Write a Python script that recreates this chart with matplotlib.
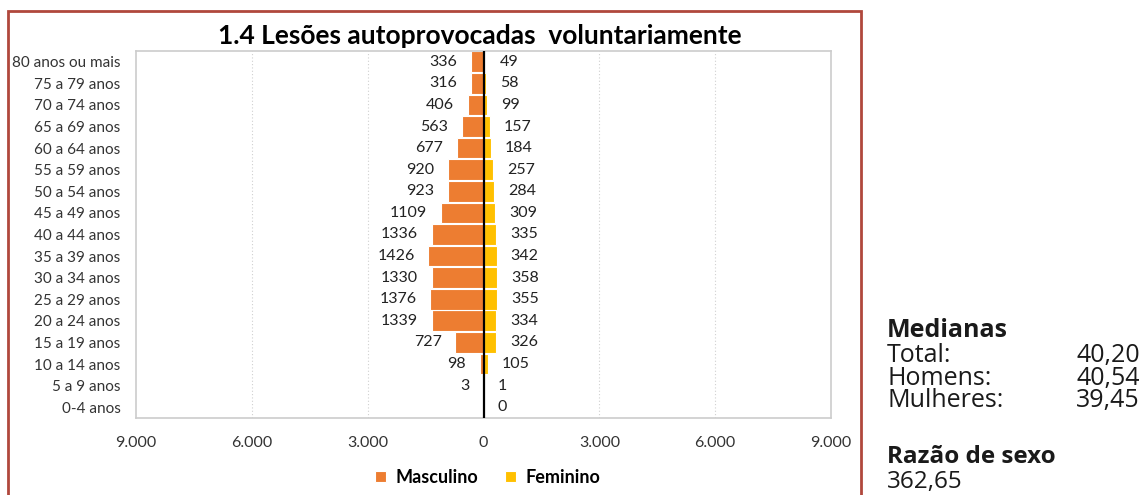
import matplotlib.pyplot as plt
from matplotlib.patches import Rectangle
from matplotlib.ticker import FuncFormatter

# faixas etárias (de baixo para cima)
faixas = ["0-4 anos", "5 a 9 anos", "10 a 14 anos", "15 a 19 anos", "20 a 24 anos",
          "25 a 29 anos", "30 a 34 anos", "35 a 39 anos", "40 a 44 anos", "45 a 49 anos",
          "50 a 54 anos", "55 a 59 anos", "60 a 64 anos", "65 a 69 anos", "70 a 74 anos",
          "75 a 79 anos", "80 anos ou mais"]
masculino = [0, 3, 98, 727, 1339, 1376, 1330, 1426, 1336, 1109, 923, 920, 677, 563, 406, 316, 336]
feminino = [0, 1, 105, 326, 334, 355, 358, 342, 335, 309, 284, 257, 184, 157, 99, 58, 49]
ticks = [-9000, -6000, -3000, 0, 3000, 6000, 9000]

med_nomes = ["Total:", "Homens:", "Mulheres:"]
med_valores = ["40,20", "40,54", "39,45"]
razao = "362,65"

cor_m = "#ED7D31"
cor_f = "#FFC000"
fonte = "Lato"

fig = plt.figure(figsize=(11.45, 4.95), dpi=100)
ax = fig.add_axes([0.1188, 0.1556, 0.607, 0.7414])

y = list(range(len(faixas)))
ax.barh(y, [-v for v in masculino], height=0.96, color=cor_m, edgecolor="white",
        linewidth=0.8, label="Masculino")
ax.barh(y, feminino, height=0.96, color=cor_f, edgecolor="white",
        linewidth=0.8, label="Feminino")

for i in y:
    if masculino[i] > 0:
        ax.text(-masculino[i] - 360, i, str(masculino[i]), ha="right", va="center",
                fontsize=11.5, family=fonte, color="#222222")
    ax.text(feminino[i] + 360, i, str(feminino[i]), ha="left", va="center",
            fontsize=11.5, family=fonte, color="#222222")

ax.set_xlim(-9000, 9000)
ax.set_ylim(-0.5, len(faixas) - 0.5)
ax.set_xticks(ticks)
ax.xaxis.set_major_formatter(FuncFormatter(lambda v, p: f"{abs(int(v)):,}".replace(",", ".")))
ax.set_yticks(y)
ax.set_yticklabels(faixas)
ax.tick_params(length=0, colors="#333333")
ax.tick_params(axis="y", pad=11, labelsize=11)
ax.tick_params(axis="x", pad=13, labelsize=11.5)
for lab in ax.get_xticklabels() + ax.get_yticklabels():
    lab.set_family(fonte)

for t in [-6000, -3000, 3000, 6000]:
    ax.axvline(t, color="#d0d0d0", lw=0.8, ls=(0, (1, 2)), zorder=0)
ax.axvline(0, color="black", lw=1.6, zorder=3)
for s in ax.spines.values():
    s.set_color("#cccccc")
    s.set_linewidth(1.2)

ax.set_title("1.4 Lesões autoprovocadas  voluntariamente", fontsize=19, fontweight="bold",
             family=fonte, pad=5, x=0.495)

ax.legend(loc="upper center", bbox_to_anchor=(0.506, -0.095), ncol=2, frameon=False,
          handlelength=0.6, handleheight=0.6, handletextpad=0.5, columnspacing=1.5,
          prop={"family": fonte, "weight": "bold", "size": 13})

# moldura
fig.patches.append(Rectangle((8 / 1145, -0.05), 853 / 1145, 1 - 11 / 495 + 0.05,
                             transform=fig.transFigure, fill=False,
                             edgecolor="#B0483C", linewidth=2))

# texto lateral
x0 = 887 / 1145
x1 = 1140 / 1145
fig.text(x0, 1 - 337 / 495, "Medianas", fontsize=18, fontweight="bold",
         family="Open Sans", color="#1a1a1a", va="baseline")
fig.text(x0, 1 - 407 / 495, "\n".join(med_nomes), fontsize=18, family="Open Sans",
         color="#1a1a1a", va="baseline", linespacing=0.86)
fig.text(x1, 1 - 407 / 495, "\n".join(med_valores), fontsize=18, family="Open Sans",
         color="#1a1a1a", va="baseline", ha="right", linespacing=0.86, multialignment="right")
fig.text(x0, 1 - 463 / 495, "Razão de sexo", fontsize=17.5, fontweight="bold",
         family="Open Sans", color="#1a1a1a", va="baseline")
fig.text(x0, 1 - 488 / 495, razao, fontsize=17.5, family="Open Sans",
         color="#1a1a1a", va="baseline")

fig.savefig("out.png", dpi=100)
